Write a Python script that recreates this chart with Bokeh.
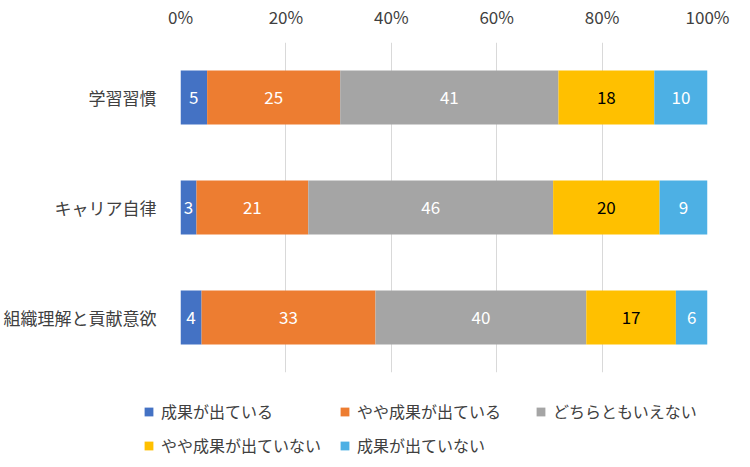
from bokeh.plotting import figure
from bokeh.models import ColumnDataSource, FactorRange, Legend, LegendItem, NumeralTickFormatter, FixedTicker, Range1d
from bokeh.core.properties import value
from bokeh.embed import file_html
from bokeh.resources import INLINE

categories = ["学習習慣", "キャリア自律", "組織理解と貢献意欲"]
series = ["成果が出ている", "やや成果が出ている", "どちらともいえない", "やや成果が出ていない", "成果が出ていない"]
v_effect = [5, 3, 4]
v_some_effect = [25, 21, 33]
v_neutral = [41, 46, 40]
v_some_no = [18, 20, 17]
v_no = [10, 9, 6]
colors = ["#4472C4", "#ED7D31", "#A5A5A5", "#FFC000", "#4DB0E4"]
label_colors = ["white", "white", "white", "black", "white"]
ticks = [0, 0.2, 0.4, 0.6, 0.8, 1.0]

vals = [v_effect, v_some_effect, v_neutral, v_some_no, v_no]
totals = [sum(v[i] for v in vals) for i in range(len(categories))]

FONT = "Noto Sans CJK JP"

p = figure(y_range=FactorRange(*reversed(categories)), x_range=Range1d(0, 1),
           x_axis_location="above", width=734, height=380,
           frame_width=527, frame_height=330,
           min_border_left=175, min_border_top=30, min_border_right=32, min_border_bottom=20,
           output_backend="svg", toolbar_location=None, outline_line_color=None)

sources = []
left = [0.0] * len(categories)
for k, v in enumerate(vals):
    frac = [v[i] / totals[i] for i in range(len(categories))]
    right = [left[i] + frac[i] for i in range(len(categories))]
    src = ColumnDataSource(dict(y=categories, left=left, right=right,
                                mid=[(left[i] + right[i]) / 2 for i in range(len(categories))],
                                lab=[str(x) for x in v]))
    sources.append(src)
    p.hbar(y="y", left="left", right="right", height=0.49, source=src,
           fill_color=colors[k], line_color=None)
    p.text(x="mid", y="y", text="lab", source=src, text_align="center", text_baseline="middle",
           text_color=label_colors[k], text_font=value(FONT), text_font_size="17px")
    left = right

p.xaxis.ticker = FixedTicker(ticks=ticks)
p.xaxis.formatter = NumeralTickFormatter(format="0%")
for ax in (p.xaxis, p.yaxis):
    ax.axis_line_color = None
    ax.major_tick_line_color = None
    ax.minor_tick_line_color = None
    ax.major_label_text_font = FONT
    ax.major_label_text_font_size = "17px"
    ax.major_label_text_color = "#404040"
p.xaxis.major_label_standoff = 8
p.yaxis.major_label_standoff = 18
p.ygrid.grid_line_color = None
p.xgrid.grid_line_color = "#D9D9D9"
p.xgrid.ticker = FixedTicker(ticks=ticks)

# legend figure (its bars lie outside its visible range; only the legend shows)
lf = figure(width=734, height=71, x_range=Range1d(-2, -1), y_range=FactorRange(*categories),
            min_border=0, output_backend="svg", toolbar_location=None,
            outline_line_color=None)
lf.axis.visible = False
lf.grid.visible = False
items = []
for k in range(5):
    r = lf.hbar(y="y", left="left", right="right", height=0.49, source=sources[k],
                fill_color=colors[k], line_color=None)
    items.append(LegendItem(label=series[k], renderers=[r]))
legend = Legend(items=items, location=(143, 6), orientation="horizontal", ncols=3,
                glyph_width=11, glyph_height=11, label_standoff=7, spacing=10,
                label_text_font=FONT, label_text_font_size="16px", label_text_color="#404040",
                border_line_color=None, background_fill_alpha=0, padding=0, margin=0,
                label_height=21, label_width=168)
lf.add_layout(legend, "center")

open("out.html", "w").write(file_html([p, lf], INLINE))
